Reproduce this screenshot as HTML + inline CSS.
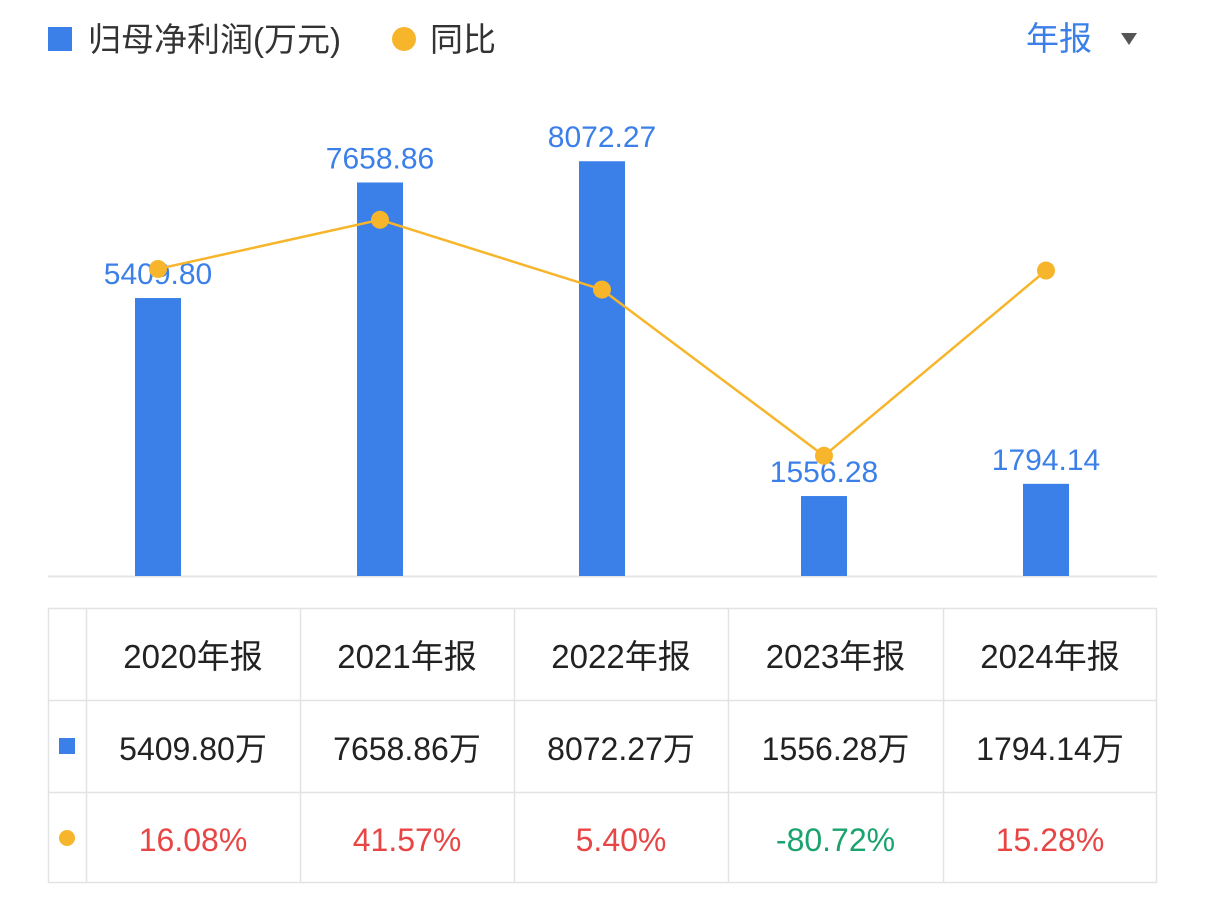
<!DOCTYPE html>
<html><head><meta charset="utf-8"><style>
body{margin:0;width:1206px;height:916px;background:#fff;overflow:hidden;font-family:"Liberation Sans","Noto Sans CJK SC",sans-serif;}
svg{position:absolute;left:0;top:0}
</style></head><body>
<svg id="c" width="1206" height="916">
<rect x="48" y="27" width="24" height="24" fill="#3b7fe8"/>
<text x="88" y="51" font-size="33" fill="#333">归母净利润(万元)</text>
<circle cx="404" cy="39" r="12" fill="#f7b52c"/>
<text x="430" y="51" font-size="33" fill="#333">同比</text>
<text x="1026" y="50" font-size="33" fill="#3b7fe8">年报</text>
<path d="M1121 33 L1137 33 L1129 45 Z" fill="#555"/>
<line x1="48" y1="576.5" x2="1157" y2="576.5" stroke="#e6e6e6" stroke-width="2"/>
<g id="bars"></g><g id="line"></g><g id="table"></g>
</svg>
<script>
const categories=["2020年报","2021年报","2022年报","2023年报","2024年报"];
const profitValues=[5409.80,7658.86,8072.27,1556.28,1794.14];
const profitLabels=["5409.80","7658.86","8072.27","1556.28","1794.14"];
const yoyValues=[16.08,41.57,5.40,-80.72,15.28];
const yoyLabels=["16.08%","41.57%","5.40%","-80.72%","15.28%"];
const NS="http://www.w3.org/2000/svg";
function mk(t,a,p){const e=document.createElementNS(NS,t);for(const k in a)e.setAttribute(k,a[k]);p.appendChild(e);return e;}
const xC=i=>158+i*222;
const yBar=v=>576-v*0.05138;
const yLine=v=>300-v*1.93;
const bars=document.getElementById('bars'),line=document.getElementById('line'),tb=document.getElementById('table');
profitValues.forEach((v,i)=>{
 const r=mk('rect',{x:xC(i)-23,y:yBar(v),width:46,height:576-yBar(v),fill:'#3b7fe8'},bars);
 
 
 const t=mk('text',{x:xC(i),y:yBar(v)-14,'font-size':30,fill:'#3b7fe8','text-anchor':'middle'},bars);
 t.textContent=profitLabels[i];
 
 
});
const pl=mk('polyline',{points:yoyValues.map((v,i)=>xC(i)+','+yLine(v)).join(' '),fill:'none',stroke:'#f7b52c','stroke-width':2.5},line);


yoyValues.forEach((v,i)=>{
 const c=mk('circle',{cx:xC(i),cy:yLine(v),r:9,fill:'#f7b52c'},line);
 
 
});
// table
const cols=[48,86,300,514,728,943,1157],rows=[608,700,792,883];
const bd=mk('rect',{x:48.5,y:608.5,width:1108,height:274,fill:'none',stroke:'#e3e3e3','stroke-width':1.5},tb);


cols.slice(1,-1).forEach(x=>mk('line',{x1:x+.5,y1:608,x2:x+.5,y2:883,stroke:'#e3e3e3','stroke-width':1.5},tb));
rows.slice(1,-1).forEach(y=>mk('line',{x1:48,y1:y+.5,x2:1157,y2:y+.5,stroke:'#e3e3e3','stroke-width':1.5},tb));
const sq=mk('rect',{x:59,y:738,width:16,height:16,fill:'#3b7fe8'},tb);


const dc=mk('circle',{cx:67,cy:838,r:8,fill:'#f7b52c'},tb);


categories.forEach((c,i)=>{
 const cx=(cols[i+1]+cols[i+2])/2;
 const h=mk('text',{x:cx,y:668,'font-size':33,fill:'#222','text-anchor':'middle'},tb);h.textContent=c;
 
 
 const p=mk('text',{x:cx,y:760,'font-size':32,fill:'#222','text-anchor':'middle'},tb);p.textContent=profitLabels[i]+'万';
 
 
 const y=mk('text',{x:cx,y:851,'font-size':32,fill:yoyValues[i]<0?'#1aa36f':'#e84545','text-anchor':'middle'},tb);y.textContent=yoyLabels[i];
 
 
});
</script>
</body></html>
